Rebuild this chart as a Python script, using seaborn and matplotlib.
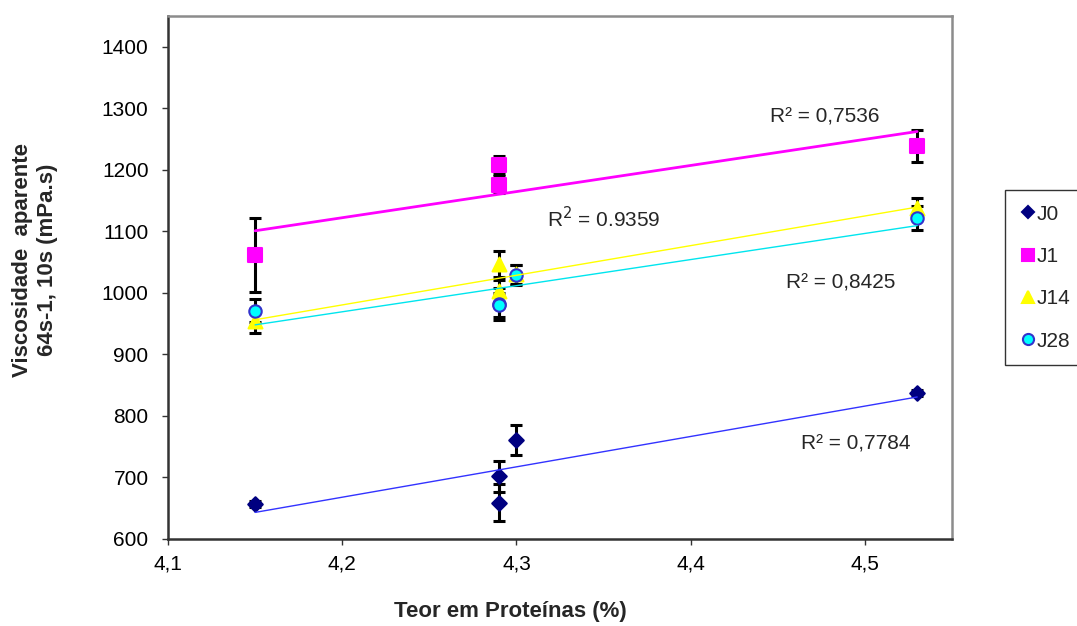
import matplotlib
matplotlib.use("Agg")
import matplotlib.pyplot as plt
import seaborn as sns
import numpy as np
import pandas as pd
from matplotlib.lines import Line2D

# ---- data ----
series_names = ["J0", "J1", "J14", "J28"]
x_J0 = [4.15, 4.29, 4.29, 4.30, 4.53]
y_J0 = [657, 702, 659, 761, 837]
e_J0 = [5, 25, 30, 25, 5]

x_J1 = [4.15, 4.29, 4.29, 4.53]
y_J1 = [1061, 1208, 1176, 1239]
e_J1 = [60, 14, 14, 26]

x_J14 = [4.15, 4.29, 4.29, 4.30, 4.53]
y_J14 = [954, 1047, 1003, 1030, 1138]
e_J14 = [19, 21, 18, 16, 16]

x_J28 = [4.15, 4.29, 4.29, 4.30, 4.53]
y_J28 = [971, 982, 980, 1029, 1122]
e_J28 = [19, 26, 20, 16, 20]

r2_labels = ["R² = 0,7784", "R² = 0,7536", "R² = 0,8425", "R$^{2}$ = 0.9359"]
x_ticks = [4.1, 4.2, 4.3, 4.4, 4.5]
x_tick_labels = ["4,1", "4,2", "4,3", "4,4", "4,5"]
y_ticks = [600, 700, 800, 900, 1000, 1100, 1200, 1300, 1400]

# ---- style ----
sns.set_style("white")
plt.rcParams["font.family"] = ["Liberation Sans", "DejaVu Sans"]
FS = 15

fig = plt.figure(figsize=(10.77, 6.26), dpi=100)
ax = fig.add_axes([168 / 1077, 87 / 626, 784 / 1077, 523 / 626])

frames = {
    "J0": pd.DataFrame({"x": x_J0, "y": y_J0, "e": e_J0}),
    "J1": pd.DataFrame({"x": x_J1, "y": y_J1, "e": e_J1}),
    "J14": pd.DataFrame({"x": x_J14, "y": y_J14, "e": e_J14}),
    "J28": pd.DataFrame({"x": x_J28, "y": y_J28, "e": e_J28}),
}
styles = {
    "J0": dict(marker="D", color="#000080", edge="#000080", size=55, line="#3333ff", lw=1.0),
    "J1": dict(marker="s", color="#ff00ff", edge="#ff00ff", size=90, line="#ff00ff", lw=2.0),
    "J14": dict(marker="^", color="#ffff00", edge="#ffff00", size=100, line="#ffff00", lw=1.0),
    "J28": dict(marker="o", color="#00ffff", edge="#3333cc", size=80, line="#00e5ee", lw=1.0),
}

for name in series_names:
    df = frames[name]
    st = styles[name]
    ax.errorbar(df["x"], df["y"], yerr=df["e"], fmt="none", ecolor="black",
                elinewidth=2.2, capsize=4.5, capthick=2.2, zorder=2)
    sns.scatterplot(data=df, x="x", y="y", marker=st["marker"], color=st["color"],
                    edgecolor=st["edge"], linewidth=1.5, s=st["size"], ax=ax, zorder=3)

for name in series_names:
    df = frames[name]
    st = styles[name]
    sns.regplot(data=df, x="x", y="y", scatter=False, ci=None, ax=ax, truncate=True,
                line_kws=dict(color=st["line"], lw=st["lw"], zorder=4))

# R² annotations
ax.text(4.495, 754, r2_labels[0], ha="center", va="center", fontsize=FS)
ax.text(4.477, 1286, r2_labels[1], ha="center", va="center", fontsize=FS)
ax.text(4.486, 1016, r2_labels[2], ha="center", va="center", fontsize=FS)
ax.text(4.350, 1120, r2_labels[3], ha="center", va="center", fontsize=FS)

ax.set_xlim(4.1, 4.55)
ax.set_ylim(600, 1450)
ax.set_xticks(x_ticks)
ax.set_xticklabels(x_tick_labels)
ax.set_yticks(y_ticks)
ax.tick_params(axis="both", labelsize=FS, direction="out", length=4, width=1,
               colors="#333333", labelcolor="black", bottom=True, left=True)
ax.tick_params(axis="x", pad=7)
ax.tick_params(axis="y", pad=10)

for s in ["left", "bottom"]:
    ax.spines[s].set_color("#333333")
    ax.spines[s].set_linewidth(1.8)
for s in ["top", "right"]:
    ax.spines[s].set_color("#8c8c8c")
    ax.spines[s].set_linewidth(1.8)

ax.set_xlabel("Teor em Proteínas (%)", fontsize=FS + 1, fontweight="bold", va="center")
ax.xaxis.set_label_coords((510 - 168) / 784, (539 - 612) / 523)
ax.set_ylabel("Viscosidade  aparente\n64s-1, 10s (mPa.s)", fontsize=FS + 1,
              fontweight="bold", va="center", linespacing=1.2)
ax.yaxis.set_label_coords((35 - 168) / 784, (539 - 260) / 523)

handles = [
    Line2D([], [], ls="none", marker=styles[n]["marker"], markerfacecolor=styles[n]["color"],
           markeredgecolor=styles[n]["edge"], markersize=8 if n != "J0" else 6.5,
           markeredgewidth=1.5, label=n)
    for n in series_names
]
leg = fig.legend(handles=handles, loc="upper left", bbox_to_anchor=(1005 / 1077, 436 / 626),
                 fontsize=FS, frameon=True, fancybox=False, labelspacing=1.12,
                 handlelength=0.8, handletextpad=0.0, borderpad=0.7, borderaxespad=0)
leg.get_frame().set_edgecolor("black")
leg.get_frame().set_linewidth(1.0)

fig.savefig("out.png", dpi=100)
